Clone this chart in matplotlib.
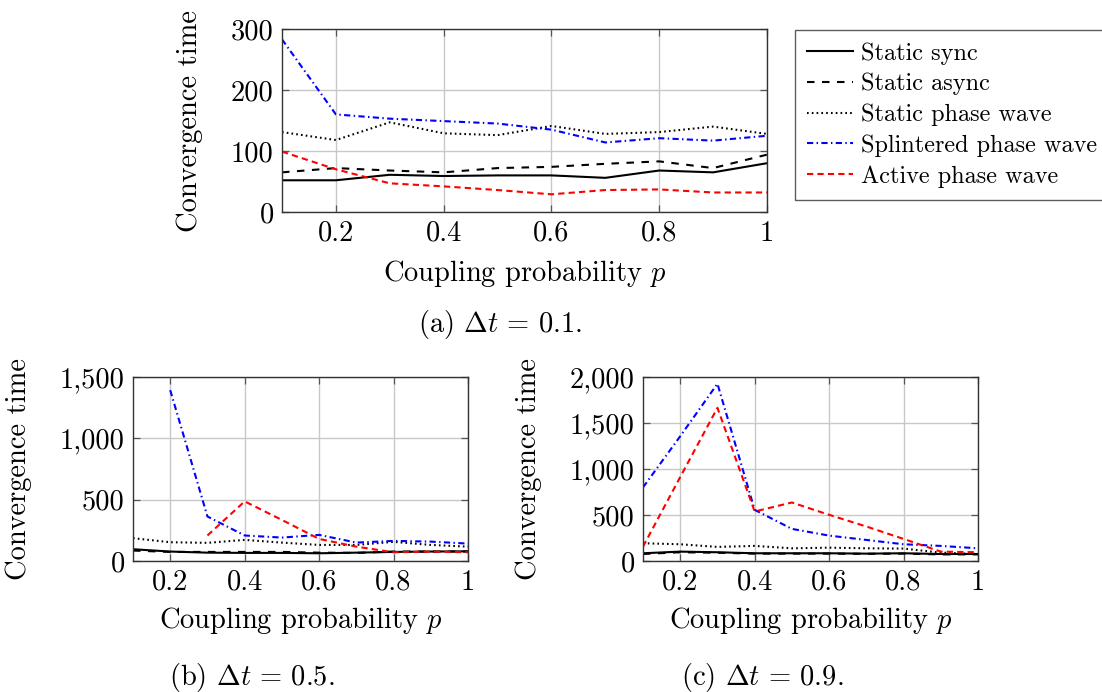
import matplotlib
matplotlib.use("Agg")
import matplotlib.pyplot as plt

plt.rcParams['font.family'] = ['cmr10', 'DejaVu Serif']
plt.rcParams['mathtext.fontset'] = 'cm'
plt.rcParams['axes.formatter.use_mathtext'] = True
FS = 20.5
LFS = 17.5

p = [0.1, 0.2, 0.3, 0.4, 0.5, 0.6, 0.7, 0.8, 0.9, 1.0]
series_names = ["Static sync", "Static async", "Static phase wave",
                "Splintered phase wave", "Active phase wave"]

# (a) dt = 0.1
a_sync = [52, 52, 61, 59, 60, 60, 56, 68, 65, 80]
a_async = [65, 72, 68, 65, 72, 74, 79, 83, 72, 94]
a_static_wave = [131, 118, 147, 129, 126, 141, 128, 131, 140, 128]
a_splintered = [283, 160, 153, 149, 145, 135, 114, 121, 117, 125]
a_active = [99, 70, 47, 42, 36, 29, 36, 37, 32, 32]

# (b) dt = 0.5
b_sync = [96, 77, 68, 66, 66, 63, 68, 74, 77, 79]
b_async = [85, 74, 74, 74, 74, 68, 66, 77, 77, 77]
b_static_wave = [186, 153, 148, 172, 150, 131, 131, 156, 131, 117]
b_splintered = [None, 1393, 363, 208, 191, 213, 150, 164, 158, 142]
b_active = [None, None, 208, 486, 335, 180, 117, 71, 77, 71]

# (c) dt = 0.9
c_sync = [84, 102, 95, 84, 84, 84, 80, 84, 76, 76]
c_async = [76, 95, 90, 80, 80, 80, 78, 80, 72, 72]
c_static_wave = [193, 182, 153, 164, 138, 145, 138, 135, 91, 76]
c_splintered = [800, 1356, 1927, 556, 349, 276, 229, 182, 164, 138]
c_active = [156, 913, 1665, 538, 636, 502, 375, 240, 102, 95]

x_ticks = [0.2, 0.4, 0.6, 0.8, 1.0]
x_ticklabels = ["0.2", "0.4", "0.6", "0.8", "1"]
a_yticks = [0, 100, 200, 300]
a_yticklabels = ["0", "100", "200", "300"]
b_yticks = [0, 500, 1000, 1500]
b_yticklabels = ["0", "500", "1,000", "1,500"]
c_yticks = [0, 500, 1000, 1500, 2000]
c_yticklabels = ["0", "500", "1,000", "1,500", "2,000"]

styles = [
    dict(color='black', linestyle='-'),
    dict(color='black', dashes=(3.6, 3.6)),
    dict(color='black', dashes=(0.8, 1.5)),
    dict(color='#0000ff', dashes=(3.0, 1.6, 0.7, 1.6)),
    dict(color='#ff0000', dashes=(3.0, 2.0)),
]
LW = 1.5

W, H = 1102, 692
fig = plt.figure(figsize=(W / 100, H / 100), dpi=100)


def px_axes(l, t, r, b):
    return fig.add_axes([l / W, 1 - b / H, (r - l) / W, (b - t) / H])


def style_axes(ax, yticks, yticklabels, ylim):
    ax.set_xlim(0.1, 1.0)
    ax.set_ylim(*ylim)
    ax.set_xticks(x_ticks, x_ticklabels)
    ax.set_yticks(yticks, yticklabels)
    ax.grid(True, color='#c8c8c8', linewidth=1.0)
    ax.set_axisbelow(True)
    ax.tick_params(direction='in', length=5, width=0.9, color='#555555',
                   top=True, right=True, labelsize=FS, pad=6)
    for s in ax.spines.values():
        s.set_color('#333333')
        s.set_linewidth(1.0)
    ax.set_xlabel("Coupling probability $p$", fontsize=FS)
    ax.set_ylabel("Convergence time", fontsize=FS)


def draw(ax, data):
    lines = []
    for vals, st, name in zip(data, styles, series_names):
        xs = [x for x, v in zip(p, vals) if v is not None]
        ys = [v for v in vals if v is not None]
        ln, = ax.plot(xs, ys, linewidth=LW, label=name, **st)
        lines.append(ln)
    return lines


axA = px_axes(282, 29, 767, 212)
lines = draw(axA, [a_sync, a_async, a_static_wave, a_splintered, a_active])
style_axes(axA, a_yticks, a_yticklabels, (0, 300))
axA.yaxis.set_label_coords(-0.163, 0.5)
axA.xaxis.set_label_coords(0.5, -0.25)

axB = px_axes(133, 377, 468, 561)
draw(axB, [b_sync, b_async, b_static_wave, b_splintered, b_active])
style_axes(axB, b_yticks, b_yticklabels, (0, 1500))
axB.yaxis.set_label_coords(-0.30, 0.5)
axB.xaxis.set_label_coords(0.5, -0.24)

axC = px_axes(643, 377, 978, 561)
draw(axC, [c_sync, c_async, c_static_wave, c_splintered, c_active])
style_axes(axC, c_yticks, c_yticklabels, (0, 2000))
axC.yaxis.set_label_coords(-0.30, 0.5)
axC.xaxis.set_label_coords(0.5, -0.24)

leg = fig.legend(handles=lines, loc='upper left',
                 bbox_to_anchor=(795 / W, 1 - 30 / H), fontsize=LFS,
                 frameon=True, fancybox=False, edgecolor='#333333',
                 handlelength=1.9, handletextpad=0.3, labelspacing=0.34,
                 borderpad=0.5, borderaxespad=0)
leg.get_frame().set_linewidth(1.0)

fig.text(500 / W, 1 - 324 / H, r"(a) $\Delta t \,=\, 0.1$.", fontsize=FS,
         ha='center', va='center')
fig.text(252 / W, 1 - 677 / H, r"(b) $\Delta t \,=\, 0.5$.", fontsize=FS,
         ha='center', va='center')
fig.text(762 / W, 1 - 677 / H, r"(c) $\Delta t \,=\, 0.9$.", fontsize=FS,
         ha='center', va='center')

fig.savefig("out.png", dpi=100)
